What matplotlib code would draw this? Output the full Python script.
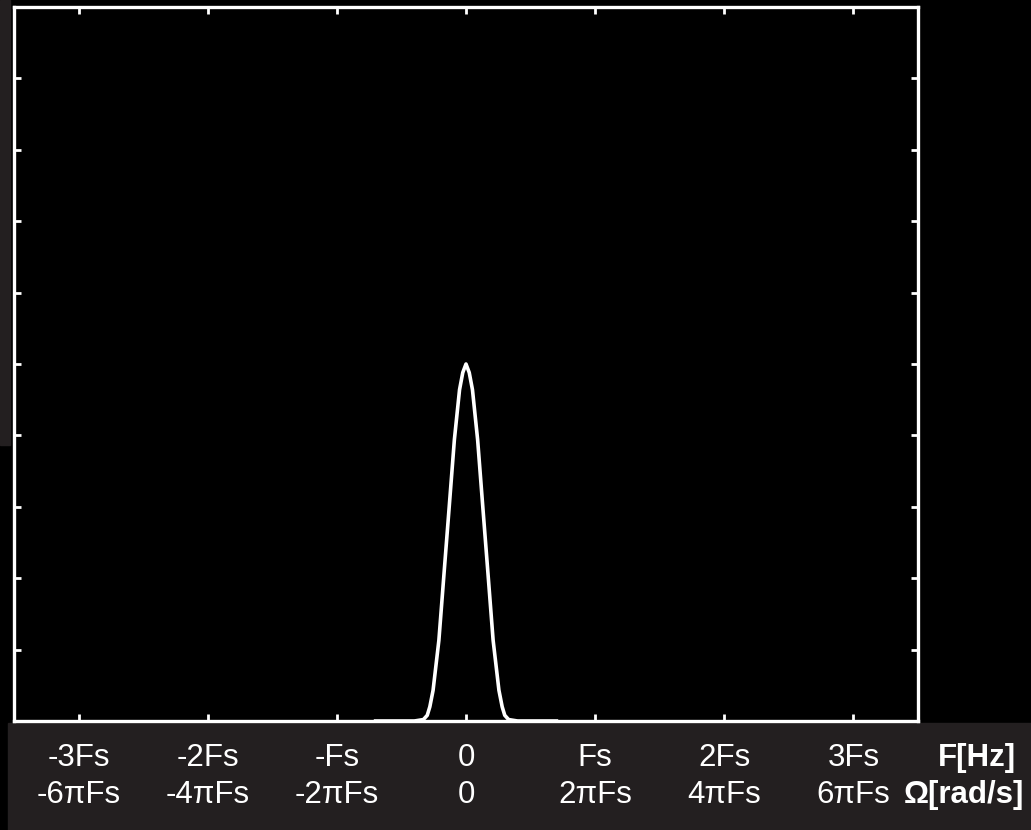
import matplotlib.pyplot as plt
import matplotlib.transforms as mtransforms
from matplotlib.patches import Rectangle

plt.rcParams['font.family'] = ['Liberation Sans', 'DejaVu Sans']

# spectrum (x in units of Fs)
freq = [-0.70, -0.40, -0.33, -0.30, -0.28, -0.255, -0.21, -0.17, -0.13, -0.09,
        -0.05, -0.025, 0.0, 0.025, 0.05, 0.09, 0.13, 0.17, 0.21, 0.255,
        0.28, 0.30, 0.33, 0.40, 0.70]
mag = [0.0, 0.0, 0.02, 0.08, 0.2, 0.43, 1.13, 2.07, 3.0, 3.94,
       4.64, 4.88, 5.0, 4.88, 4.64, 3.94, 3.0, 2.07, 1.13, 0.43,
       0.2, 0.08, 0.02, 0.0, 0.0]

xticks = [-3, -2, -1, 0, 1, 2, 3]
f_labels = ['-3Fs', '-2Fs', '-Fs', '0', 'Fs', '2Fs', '3Fs']
w_labels = ['-6\u03c0Fs', '-4\u03c0Fs', '-2\u03c0Fs', '0', '2\u03c0Fs', '4\u03c0Fs', '6\u03c0Fs']
yticks = [1, 2, 3, 4, 5, 6, 7, 8, 9]

W, H = 1031, 830
fig = plt.figure(figsize=(W / 100, H / 100), dpi=100, facecolor='black')

# dark grey strips of the slide behind the plot
grey = '#231f20'
fig.patches.append(Rectangle((8 / W, 0), 1 - 8 / W, (H - 723) / H,
                             transform=fig.transFigure, color=grey, zorder=-5))
fig.patches.append(Rectangle((0, (H - 445) / H), 10 / W, 445 / H,
                             transform=fig.transFigure, color=grey, zorder=-5))

ax = fig.add_axes([14 / W, (H - 721) / H, (918 - 14) / W, (721 - 7) / H])
ax.set_facecolor('black')
ax.plot(freq, mag, color='white', lw=2.6, clip_on=False, zorder=3,
        solid_joinstyle='round')
ax.set_xlim(-3.5, 3.5)
ax.set_ylim(0, 10)

for s in ax.spines.values():
    s.set_color('white')
    s.set_linewidth(2.4)

ax.set_xticks(xticks)
ax.set_yticks(yticks)
ax.tick_params(direction='in', length=5, width=2, color='white',
               top=True, right=True, labelbottom=False, labelleft=False)

fs = 22.5
trans = mtransforms.blended_transform_factory(ax.transData, fig.transFigure)
for x, f, w in zip(xticks, f_labels, w_labels):
    fig.text(x, 1 - 758 / H, f, transform=trans, ha='center', va='center',
             color='white', fontsize=fs)
    fig.text(x, 1 - 795 / H, w, transform=trans, ha='center', va='center',
             color='white', fontsize=fs)

fig.text(977 / W, 1 - 758 / H, 'F[Hz]', ha='center', va='center',
         color='white', fontsize=fs, fontweight='bold')
fig.text(964 / W, 1 - 795 / H, '\u03a9[rad/s]', ha='center', va='center',
         color='white', fontsize=fs, fontweight='bold')

fig.savefig('out.png', dpi=100, facecolor=fig.get_facecolor())
